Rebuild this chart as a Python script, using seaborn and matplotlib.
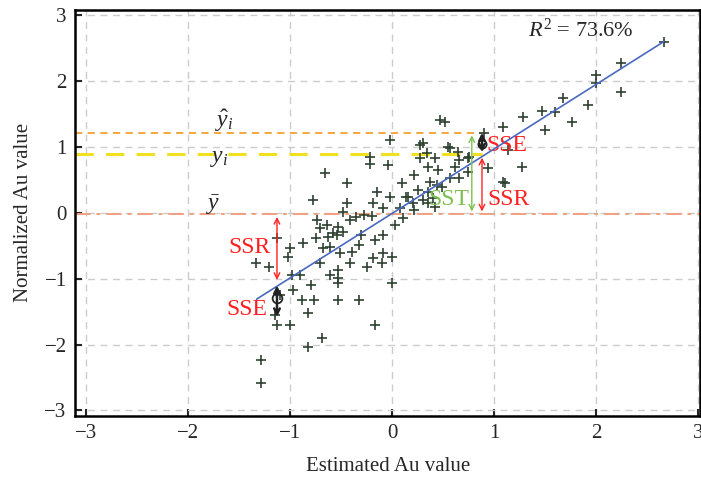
import numpy as np
import pandas as pd
import matplotlib
matplotlib.use("Agg")
import matplotlib.pyplot as plt
import seaborn as sns

# Puntos (valor estimado vs. normalizado)
est_x = [-1.34, -1.21, -1.02, -0.98, -0.90, -0.97, -0.80, -0.88, -0.77, -0.83,
         -1.00, -1.13, -0.69, -0.83, -1.29, -1.29, -0.53, -0.33, -0.17, -0.61,
         -0.53, -0.53, -0.41, -0.25, -0.19, -0.10, -0.09, 0.00, 0.00, -0.71,
         -0.66, -0.44, -0.22, -0.22, -0.15, -0.78, -0.44, -0.19, -0.48, -0.74,
         -0.71, -0.75, -0.63, -0.58, -0.53, -0.41, -0.36, -0.28, -0.87, -1.00,
         -0.61, -0.51, -0.33, -0.68, -0.02, -0.64, -0.54, -0.48, -0.39, -0.53,
         0.52, -0.02, 0.30, 0.57, 0.34, 0.42, -0.04, 0.65, 0.74, 0.35,
         0.45, 0.21, 0.57, 0.65, 0.37, 0.10, 0.44, 0.13, 0.35, 0.40,
         -0.09, 0.08, 0.20, 0.35, 0.42, 0.11, -0.09, 0.90, 1.09, 1.28,
         1.60, 1.76, 1.92, 1.50, 1.09, 1.13, 1.27, 1.67, 2.00, 2.00,
         2.24, 2.24, 2.66, 0.94, 1.11, 0.47, 0.15, 0.30, 0.21, 0.49,
         0.62, 0.74, 0.75, 0.27, 0.27, 0.55, 0.64, 0.03, -0.31, -0.17,
         -1.15, -1.13, -0.20, 0.25, -1.10, 1.47]
norm_y = [-0.76, -0.82, -0.67, -0.94, -0.94, -1.17, -1.09, -1.32, -1.32, -1.52,
          -1.70, -1.70, -1.90, -2.04, -2.23, -2.58, -1.32, -1.32, -1.70, -0.94,
          -0.87, -1.06, -0.76, -0.82, -0.68, -0.76, -0.61, -0.67, -1.06, -0.76,
          0.61, 0.46, 0.85, 0.75, 0.32, 0.20, 0.15, 0.15, 0.02, -0.11,
          -0.23, -0.38, -0.36, -0.30, -0.21, -0.11, -0.06, -0.03, -0.46, -0.53,
          -0.52, -0.61, -0.49, -0.53, 0.24, -0.18, -0.33, -0.29, -0.59, -0.99,
          1.38, 1.11, 1.06, 0.99, 0.91, 0.84, 0.73, 0.81, 0.84, 0.70,
          0.65, 0.58, 0.53, 0.53, 0.47, 0.46, 0.43, 0.24, 0.32, 0.23,
          0.08, 0.08, 0.15, 0.15, 0.09, -0.08, -0.33, 1.22, 0.47, 1.46,
          1.53, 1.38, 1.64, 1.26, 1.31, 0.96, 0.70, 1.75, 2.10, 1.98,
          1.84, 2.28, 2.60, 0.68, 0.46, 1.41, 0.24, 0.20, 0.05, 0.40,
          0.70, 0.62, 0.85, 1.03, 0.84, 1.00, 0.93, -0.18, -0.33, -0.41,
          -1.55, -0.38, -0.05, 0.35, -1.25, 1.55]

# Recta de regresión
fit_x = [-1.33, 2.66]
fit_y = [-1.31, 2.60]

# Líneas de referencia
y_hat_i = 1.22
y_i = 0.90
y_bar = -0.02
x_sel = 0.88        # punto seleccionado (arriba)
x_sel2 = -1.13      # punto seleccionado (abajo)
r2_texto = "73.6%"

ticks = [-3, -2, -1, 0, 1, 2, 3]

sns.set_style("white")
plt.rcParams["font.family"] = ["Liberation Serif", "DejaVu Serif"]
plt.rcParams["mathtext.fontset"] = "custom"
plt.rcParams["mathtext.rm"] = "Liberation Serif"
plt.rcParams["mathtext.it"] = "Liberation Serif:italic"

fig = plt.figure(figsize=(7.01, 4.79), dpi=100)
ax = fig.add_axes([0.107, 0.1315, 0.892, 0.848])

df = pd.DataFrame({"x": est_x, "y": norm_y})

# Líneas horizontales
ax.plot([-3.11, x_sel], [y_hat_i, y_hat_i], color="#f5a030", ls=(0, (4, 3)), lw=1.3, zorder=2)
ax.plot([-3.11, x_sel], [y_i, y_i], color="#f0e020", ls=(0, (6, 4)), lw=2.2, zorder=2)
ax.axhline(y_bar, color="#f0a080", ls=(0, (8, 3, 2, 3)), lw=1.4, zorder=2)

sns.scatterplot(data=df, x="x", y="y", marker="+", s=60, linewidth=1.2,
                color="#2e4232", ax=ax, zorder=3)
sns.lineplot(x=fit_x, y=fit_y, color="#4a68c0", lw=1.2, ax=ax, zorder=4)

# Flechas SST / SSR / SSE (arriba)
ax.annotate("", xy=(x_sel - 0.1, y_hat_i), xytext=(x_sel - 0.1, y_bar),
            arrowprops=dict(arrowstyle="<->", color="#7cc050", lw=1.0), zorder=5)
ax.annotate("", xy=(x_sel, 0.88), xytext=(x_sel, y_bar),
            arrowprops=dict(arrowstyle="<->", color="#ff2020", lw=1.0), zorder=5)
ax.annotate("", xy=(x_sel, y_hat_i + 0.04), xytext=(x_sel, 0.88),
            arrowprops=dict(arrowstyle="<->", color="#222222", lw=1.8), zorder=5)
ax.plot([x_sel], [1.05], marker="o", ms=6, mfc="none", mec="#222222", mew=1.2, zorder=6)
ax.text(0.92, 1.02, "SSE", color="#ff2020", fontsize=17, va="center", ha="left")
ax.text(0.93, 0.20, "SSR", color="#ff2020", fontsize=17, va="center", ha="left")
ax.text(0.76, 0.20, "SST", color="#7cc050", fontsize=17, va="center", ha="right")

# Flechas SSR / SSE (abajo)
ax.annotate("", xy=(x_sel2, y_bar), xytext=(x_sel2, -1.06),
            arrowprops=dict(arrowstyle="<->", color="#ff2020", lw=1.0), zorder=5)
ax.annotate("", xy=(x_sel2, -1.06), xytext=(x_sel2, -1.62),
            arrowprops=dict(arrowstyle="<->", color="#222222", lw=1.8), zorder=5)
ax.plot([x_sel2], [-1.3], marker="o", ms=7, mfc="none", mec="#222222", mew=1.3, zorder=6)
ax.text(-1.40, -0.52, "SSR", color="#ff2020", fontsize=17, va="center", ha="center")
ax.text(-1.43, -1.47, "SSE", color="#ff2020", fontsize=17, va="center", ha="center")

# Etiquetas de las líneas
ax.text(-1.65, 1.40, r"$\hat{y}_i$", fontsize=17, ha="center", va="center")
ax.text(-1.70, 0.83, r"$y_i$", fontsize=17, ha="center", va="center")
ax.text(-1.75, 0.12, r"$\bar{y}$", fontsize=17, ha="center", va="center")
ax.text(1.85, 2.78, r"$R^2$ = " + r2_texto, fontsize=16, ha="center", va="center")

ax.set_xlim(-3.11, 3.02)
ax.set_ylim(-3.085, 3.085)
ax.set_xticks(ticks)
ax.set_yticks(ticks)
ax.set_xticklabels(["\u22123", "\u22122", "\u22121", "0", "1", "2", "3"])
ax.set_yticklabels(["\u22123", "\u22122", "\u22121", "0", "1", "2", "3"])
ax.grid(True, color="#cccccc", ls=(0, (5, 4)), lw=1.0)
ax.tick_params(direction="in", length=5, width=1.5, labelsize=15, pad=6,
               left=True, bottom=True)
for s in ax.spines.values():
    s.set_linewidth(1.8)
    s.set_color("black")

ax.set_xlabel("Estimated Au value", fontsize=15, labelpad=10)
ax.set_ylabel("Normalized Au value", fontsize=15, labelpad=8)

fig.savefig("out.png", dpi=100)
